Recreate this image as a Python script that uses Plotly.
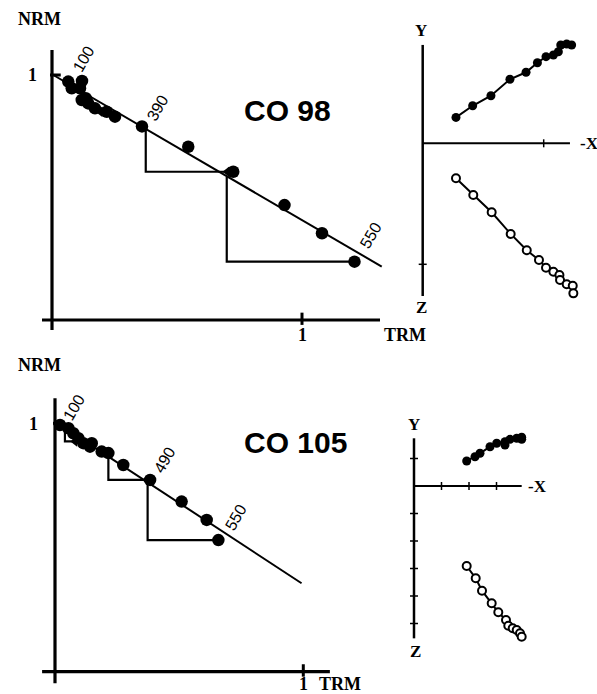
import plotly.graph_objects as go

W, H = 597, 694

# ---------------- data ----------------
# Arai plot CO 98 (TRM gained, NRM remaining; normalised)
co98_trm = [0.065, 0.120, 0.079, 0.112, 0.135, 0.119, 0.145, 0.172, 0.219, 0.252, 0.36, 0.545, 0.725, 0.93, 1.08, 1.21]
co98_nrm = [0.973, 0.976, 0.946, 0.946, 0.905, 0.898, 0.884, 0.864, 0.850, 0.830, 0.79, 0.707, 0.605, 0.469, 0.354, 0.238]
co98_fit_x = [0.005, 1.319]
co98_fit_y = [1.000, 0.218]
# pTRM checks: x of step, NRM of step, NRM of later step, pTRM check value
co98_chk_x0 = [0.375, 0.699]
co98_chk_y0 = [0.780, 0.585]
co98_chk_y1 = [0.605, 0.238]
co98_chk_x1 = [0.700, 1.205]
co98_chk_extra = ([0.192], [0.850])
co98_temps = ["100", "390", "550"]
co98_temp_x = [0.124, 0.42, 1.276]
co98_temp_y = [1.065, 0.865, 0.343]

# Arai plot CO 105
co105_trm = [0.020, 0.054, 0.074, 0.094, 0.114, 0.148, 0.141, 0.188, 0.215, 0.275, 0.383, 0.51, 0.611, 0.658]
co105_nrm = [0.993, 0.980, 0.960, 0.940, 0.920, 0.920, 0.906, 0.886, 0.880, 0.832, 0.772, 0.685, 0.611, 0.530]
co105_fit_x = [0.000, 0.993]
co105_fit_y = [1.007, 0.356]
co105_chk_x0 = [0.040, 0.215, 0.373]
co105_chk_y0 = [0.965, 0.886, 0.756]
co105_chk_y1 = [0.927, 0.772, 0.530]
co105_chk_x1 = [0.080, 0.369, 0.651]
co105_temps = ["100", "490", "550"]
co105_temp_x = [0.077, 0.439, 0.729]
co105_temp_y = [1.062, 0.852, 0.619]

# Zijderveld CO 98 (-X, Y horizontal projection ; -X, Z vertical projection)
z98_hx = [0.275, 0.413, 0.564, 0.721, 0.854, 0.948, 1.019, 1.080, 1.121, 1.141, 1.190, 1.231]
z98_hy = [0.214, 0.310, 0.393, 0.529, 0.587, 0.666, 0.716, 0.730, 0.757, 0.812, 0.821, 0.812]
z98_vx = [0.275, 0.418, 0.570, 0.727, 0.860, 0.961, 1.019, 1.080, 1.130, 1.135, 1.190, 1.240, 1.245]
z98_vz = [0.289, 0.427, 0.570, 0.749, 0.884, 0.965, 1.028, 1.061, 1.088, 1.130, 1.165, 1.177, 1.240]

# Zijderveld CO 105
z105_hx = [1.916, 2.218, 2.400, 2.764, 3.007, 3.309, 3.309, 3.491, 3.735, 3.916, 3.916]
z105_hy = [0.909, 1.065, 1.189, 1.429, 1.553, 1.611, 1.491, 1.698, 1.735, 1.771, 1.698]
z105_vx = [1.916, 2.244, 2.473, 2.825, 3.065, 3.345, 3.429, 3.589, 3.735, 3.855, 3.916]
z105_vz = [2.909, 3.356, 3.807, 4.265, 4.593, 4.873, 5.080, 5.175, 5.236, 5.356, 5.480]

# ---------------- layout helpers ----------------
fig = go.Figure()

# panels: (origin px x, origin px y, px per unit x, px per unit y)
panels = {
    1: (52, 320, 250, 245),        # Arai CO 98
    2: (55, 671.7, 248.3, 248.4),  # Arai CO 105
    3: (422.7, 143.3, 121, 121),   # Zijderveld CO 98
    4: (414, 486, 27.5, 27.5),     # Zijderveld CO 105
}

layout = dict(width=W, height=H, margin=dict(l=0, r=0, t=0, b=0),
              paper_bgcolor="white", plot_bgcolor="rgba(0,0,0,0)", showlegend=False)
for k, (ox, oy, sx, sy) in panels.items():
    sfx = "" if k == 1 else str(k)
    layout["xaxis" + sfx] = dict(domain=[0, 1], range=[(0 - ox) / sx, (W - ox) / sx],
                                 visible=False, anchor="y" + sfx)
    layout["yaxis" + sfx] = dict(domain=[0, 1], range=[(oy - H) / sy, (oy - 0) / sy],
                                 visible=False, anchor="x" + sfx)
fig.update_layout(**layout)


def ax(k):
    return ("x" if k == 1 else "x%d" % k), ("y" if k == 1 else "y%d" % k)


def seg(k, xs, ys, width=2, color="black"):
    xa, ya = ax(k)
    fig.add_trace(go.Scatter(x=xs, y=ys, mode="lines", xaxis=xa, yaxis=ya,
                             line=dict(color=color, width=width), hoverinfo="skip"))


def text(k, x, y, s, size, family, angle=0, bold=False):
    xa, ya = ax(k)
    fig.add_annotation(x=x, y=y, xref=xa, yref=ya, text=("<b>%s</b>" % s) if bold else s,
                       showarrow=False, textangle=angle,
                       font=dict(size=size, family=family, color="black"))


SERIF = "Liberation Serif"
SANS = "Liberation Sans"


def arai(k, trm, nrm, fx, fy, cx0, cy0, cy1, cx1, temps, tx, ty, name, name_xy,
         ymax, xmin, xmax, ymin, nrm_xy, trm_xy, one_y_xy, one_x_xy):
    xa, ya = ax(k)
    # axes
    seg(k, [0, 0], [ymin, ymax], width=3.2)
    seg(k, [xmin, xmax], [0, 0], width=3.2)
    # ticks at 1
    seg(k, [-0.008, 0.035], [1, 1], width=3)
    seg(k, [1, 1], [-0.02, 0.03], width=3)
    # fit line
    seg(k, fx, fy, width=2)
    # pTRM check triangles
    for a, b, c, d in zip(cx0, cy0, cy1, cx1):
        seg(k, [a, a, d], [b, c, c], width=2.2)
    fig.add_trace(go.Scatter(x=cx1, y=cy1, mode="markers", xaxis=xa, yaxis=ya,
                             marker=dict(symbol="triangle-left", size=9, color="black"),
                             hoverinfo="skip"))
    # data points
    fig.add_trace(go.Scatter(x=trm, y=nrm, mode="markers", xaxis=xa, yaxis=ya,
                             marker=dict(size=12.5, color="black", line=dict(width=0)),
                             hoverinfo="skip"))
    for s, x, y in zip(temps, tx, ty):
        text(k, x, y, s, 16, SANS, angle=-60)
    text(k, name_xy[0], name_xy[1], name, 30, SANS, bold=True)
    text(k, nrm_xy[0], nrm_xy[1], "NRM", 18, SERIF, bold=True)
    text(k, trm_xy[0], trm_xy[1], "TRM", 18, SERIF, bold=True)
    text(k, one_y_xy[0], one_y_xy[1], "1", 18, SERIF, bold=True)
    text(k, one_x_xy[0], one_x_xy[1], "1", 18, SERIF, bold=True)


arai(1, co98_trm, co98_nrm, co98_fit_x, co98_fit_y, co98_chk_x0, co98_chk_y0, co98_chk_y1,
     co98_chk_x1, co98_temps, co98_temp_x, co98_temp_y, "CO 98", (0.94, 0.857),
     ymax=1.102, xmin=-0.04, xmax=1.312, ymin=-0.041,
     nrm_xy=(-0.052, 1.229), trm_xy=(1.412, -0.063), one_y_xy=(-0.08, 1.0), one_x_xy=(1.0, -0.063))
xa, ya = ax(1)
fig.add_trace(go.Scatter(x=co98_chk_extra[0], y=co98_chk_extra[1], mode="markers", xaxis=xa, yaxis=ya,
                         marker=dict(symbol="triangle-left", size=9, color="black"), hoverinfo="skip"))

arai(2, co105_trm, co105_nrm, co105_fit_x, co105_fit_y, co105_chk_x0, co105_chk_y0, co105_chk_y1,
     co105_chk_x1, co105_temps, co105_temp_x, co105_temp_y, "CO 105", (0.967, 0.921),
     ymax=1.101, xmin=-0.052, xmax=1.107, ymin=-0.046,
     nrm_xy=(-0.064, 1.233), trm_xy=(1.148, -0.05), one_y_xy=(-0.088, 0.998), one_x_xy=(1.0, -0.05))


def zij(k, hx, hy, vx, vz, xmax, ymax, ymin, xticks, yticks, tick_px, y_lab, x_lab, z_lab):
    xa, ya = ax(k)
    ox, oy, sx, sy = panels[k]
    seg(k, [0, 0], [ymin, ymax], width=2.5)
    seg(k, [0, xmax], [0, 0], width=2)
    tx = tick_px / sx
    ty = tick_px / sy
    for t in xticks:
        seg(k, [t, t], [-ty, ty], width=1.5)
    for t in yticks:
        seg(k, [-tx, tx], [t, t], width=1.5)
    fig.add_trace(go.Scatter(x=hx, y=hy, mode="lines+markers", xaxis=xa, yaxis=ya,
                             line=dict(color="black", width=2),
                             marker=dict(size=9, color="black"), hoverinfo="skip"))
    fig.add_trace(go.Scatter(x=vx, y=[-v for v in vz], mode="lines+markers", xaxis=xa, yaxis=ya,
                             line=dict(color="black", width=2),
                             marker=dict(size=8, color="white", line=dict(color="black", width=2)),
                             hoverinfo="skip"))
    text(k, y_lab[0], y_lab[1], "Y", 17, SERIF, bold=True)
    text(k, x_lab[0], x_lab[1], "-X", 17, SERIF, bold=True)
    text(k, z_lab[0], z_lab[1], "Z", 17, SERIF, bold=True)


zij(3, z98_hx, z98_hy, z98_vx, z98_vz, xmax=1.217, ymax=0.813, ymin=-1.262,
    xticks=[1.0], yticks=[-1.0], tick_px=4,
    y_lab=(-0.01, 0.93), x_lab=(1.375, 0.0), z_lab=(-0.006, -1.353))
zij(4, z105_hx, z105_hy, z105_vx, z105_vz, xmax=3.916, ymax=1.735, ymin=-5.54,
    xticks=[1, 2, 3], yticks=[1, -1, -2, -3, -4, -5], tick_px=4,
    y_lab=(0.0, 2.22), x_lab=(4.5, 0.0), z_lab=(0.04, -6.02))

fig.write_html("out.html")
